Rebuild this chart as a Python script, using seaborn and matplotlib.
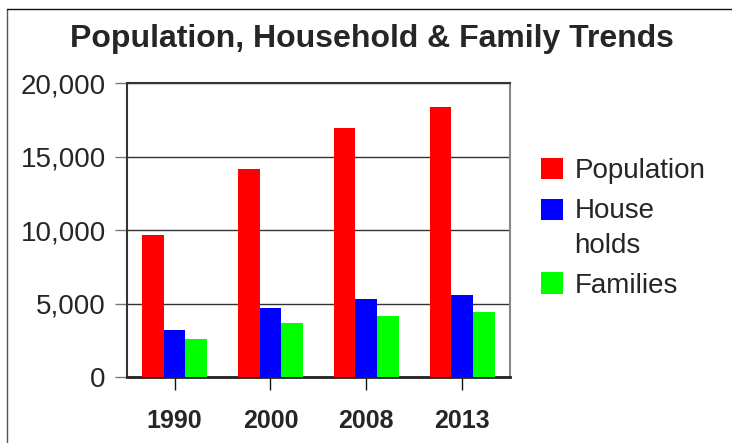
import matplotlib
matplotlib.use("Agg")
import matplotlib.pyplot as plt
import seaborn as sns
import pandas as pd
from matplotlib.lines import Line2D
from matplotlib.ticker import FuncFormatter

years = ["1990", "2000", "2008", "2013"]
series = ["Population", "House\nholds", "Families"]
population = [9700, 14170, 16960, 18390]
households = [3220, 4720, 5330, 5600]
families = [2600, 3700, 4170, 4440]
colors = ["#ff0000", "#0000ff", "#00ff00"]
title = "Population, Household & Family Trends"

rows = []
for vals, name in zip([population, households, families], series):
    for y, v in zip(years, vals):
        rows.append({"Year": y, "Series": name, "Value": v})
df = pd.DataFrame(rows)

sns.set_theme(style="white")
plt.rcParams["font.family"] = ["Liberation Sans", "DejaVu Sans"]

W, H = 732, 443
fig = plt.figure(figsize=(W / 100, H / 100), dpi=100)
ax = fig.add_axes([126.7 / W, 1 - 377.3 / H, (510 - 126.7) / W, (377.3 - 83.3) / H])

sns.barplot(data=df, x="Year", y="Value", hue="Series", palette=colors,
            saturation=1, width=0.68, gap=0, ax=ax, linewidth=0, edgecolor="none",
            zorder=3)

ax.set_ylim(0, 20000)
ax.set_xlim(-0.5, 3.5)
ax.set_yticks([0, 5000, 10000, 15000, 20000])
ax.yaxis.set_major_formatter(FuncFormatter(lambda v, p: f"{int(v):,}"))
ax.set_xlabel("")
ax.set_ylabel("")
ax.grid(axis="y", color="#333333", linewidth=1.0, zorder=1)
ax.set_axisbelow(True)

for side in ["left", "top"]:
    ax.spines[side].set_color("#333333")
    ax.spines[side].set_linewidth(1.5)
ax.spines["right"].set_color("#888888")
ax.spines["right"].set_linewidth(1.5)
ax.spines["bottom"].set_color("#222222")
ax.spines["bottom"].set_linewidth(2)

ax.tick_params(axis="y", direction="out", length=9, width=1, color="#777777",
               pad=6, labelsize=20, left=True)
ax.tick_params(axis="x", direction="out", length=9, width=1, color="#111111",
               pad=14, bottom=True)
for lab in ax.get_xticklabels():
    lab.set_fontweight("bold")
    lab.set_fontsize(18)

handles, labels = ax.get_legend_handles_labels()
leg = ax.legend(handles, labels, loc="upper left",
                bbox_to_anchor=(541 / W, 1 - 158 / H), bbox_transform=fig.transFigure,
                frameon=False, fontsize=20, borderpad=0, borderaxespad=0,
                handlelength=0.8, handleheight=0.8, handletextpad=0.4,
                labelspacing=0.5)
for t in leg.get_texts():
    t.set_linespacing(1.42)
hb = leg.legend_handles[1]
hb.set_y(hb.get_y() + 14)

fig.text(371.5 / W, 1 - 47 / H, title, ha="center", va="baseline",
         fontsize=23, fontweight="bold")

fig.add_artist(Line2D([7 / W, 7 / W], [0, 1 - 9 / H], transform=fig.transFigure,
                      color="#555555", linewidth=1))
fig.add_artist(Line2D([7 / W, 1], [1 - 9 / H, 1 - 9 / H], transform=fig.transFigure,
                      color="#111111", linewidth=1))

fig.savefig("out.png", dpi=100)
